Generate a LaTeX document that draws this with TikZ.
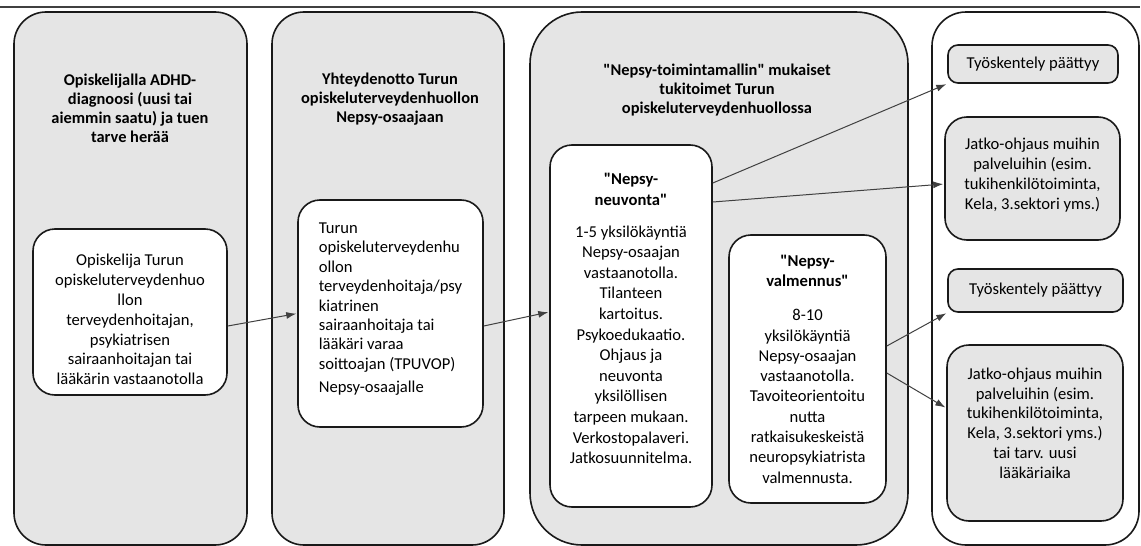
\documentclass[tikz,border=0pt]{standalone}
\usepackage{fontspec}
\setmainfont{Carlito}[Ligatures=TeXOff]
\usetikzlibrary{arrows.meta,calc}

\begin{document}
\begin{tikzpicture}[x=1pt,y=-1pt,shorten >=1pt,->,>={Latex[length=10pt,width=7pt]},draw=black!75,line width=1pt]
    \tikzstyle{column}=[draw=black!90,line width=1.6pt,minimum height=533pt,inner sep=0pt]
    \tikzstyle{box}=[draw=black!90,line width=1.6pt,fill=white,rounded corners=22pt,inner sep=0pt,font=\fontsize{16.6}{19.8}\selectfont]
    \tikzstyle{grey box}=[box,fill=black!10]
    \tikzstyle{title}=[align=center,font=\bfseries\fontsize{16.4}{19.2}\selectfont]

    \useasboundingbox (0,0) rectangle (1141,546);

    % Rule at the top
    \draw[-,black!75,line width=1.2pt] (0,7) -- (1141,7);

    % Draw the four columns
    \foreach \name / \x / \w / \r / \shade in {C1/130.5/233/32/black!10, C2/388/232/32/black!10,
                                              C3/719/378/52/black!10, C4/1035.5/207/34/white}
        \node[column, minimum width=\w pt, rounded corners=\r pt, fill=\shade] (\name) at (\x,278.5) {};

    % Column titles
    \node[title] (T-1) at (130,108.5) {Opiskelijalla ADHD-\\diagnoosi (uusi tai\\aiemmin saatu) ja tuen\\tarve herää};
    \node[title] (T-2) at (390,99) {Yhteydenotto Turun\\opiskeluterveydenhuollon\\Nepsy-osaajaan};
    \node[title] (T-3) at (717,90) {"Nepsy-toimintamallin" mukaiset\\tukitoimet Turun\\opiskeluterveydenhuollossa};

    % Boxes inside the columns
    \node[box, minimum width=194pt, minimum height=166pt] (vastaanotto) at (130,312) {};
    \node[align=center, font=\fontsize{16.6}{19.8}\selectfont] (vastaanotto-text) at (130,319.5)
        {Opiskelija Turun\\opiskeluterveydenhuo\\llon\\terveydenhoitajan,\\psykiatrisen\\sairaanhoitajan tai\\lääkärin vastaanotolla};
    \node[box, align=left, minimum width=185pt, minimum height=227pt, font=\fontsize{16.6}{19.4}\selectfont] (yhteys) at (390.5,313.5)
        {Turun\\opiskeluterveydenhu\\ollon\\terveydenhoitaja/psy\\kiatrinen\\sairaanhoitaja tai\\lääkäri varaa\\soittoajan (TPUVOP)\\[4pt]Nepsy-osaajalle\\[-8pt]};
    \node[box, align=center, minimum width=162pt, minimum height=362pt, font=\fontsize{16.6}{20.6}\selectfont] (neuvonta) at (631,326)
        {\textbf{"Nepsy-}\\\textbf{neuvonta"}\\[11pt]1-5 yksilökäyntiä\\Nepsy-osaajan\\vastaanotolla.\\Tilanteen\\kartoitus.\\Psykoedukaatio.\\Ohjaus ja\\neuvonta\\yksilöllisen\\tarpeen mukaan.\\Verkostopalaveri.\\Jatkosuunnitelma.\\[-6pt]};
    \node[box, align=center, minimum width=157pt, minimum height=268pt, font=\fontsize{16.6}{20.3}\selectfont] (valmennus) at (807.5,369)
        {\textbf{"Nepsy-}\\\textbf{valmennus"}\\[14pt]8-10\\yksilökäyntiä\\Nepsy-osaajan\\vastaanotolla.\\Tavoiteorientoitu\\nutta\\ratkaisukeskeistä\\neuropsykiatrista\\valmennusta.};

    % Outcomes in the last column
    \node[grey box, rounded corners=10pt, minimum width=170pt, minimum height=38pt] (paattyy-1) at (1033,64) {Työskentely päättyy};
    \node[grey box, align=center, minimum width=175pt, minimum height=123pt] (jatko-1) at (1032.5,178.5)
        {Jatko-ohjaus muihin\\palveluihin (esim.\\tukihenkilötoiminta,\\Kela, 3.sektori yms.)\\[-10pt]};
    \node[grey box, rounded corners=10pt, minimum width=175pt, minimum height=43pt] (paattyy-2) at (1035.5,290.5) {Työskentely päättyy};
    \node[grey box, align=center, minimum width=176pt, minimum height=176pt] (jatko-2) at (1035,433)
        {Jatko-ohjaus muihin\\palveluihin (esim.\\tukihenkilötoiminta,\\Kela, 3.sektori yms.)\\tai tarv. uusi\\lääkäriaika\\};

    % Connect the steps
    \draw ($(vastaanotto.east)+(0,14)$) -- (yhteys.west);
    \draw ($(yhteys.east)+(0,12.5)$) -- ($(neuvonta.west)+(0,-14)$);
    \draw ($(neuvonta.east)+(0,-143)$) -- (paattyy-1.south west);
    \draw ($(neuvonta.east)+(0,-124)$) -- ($(jatko-1.west)+(0,5.5)$);
    \draw ($(valmennus.east)+(0,-23)$) -- (paattyy-2.south west);
    \draw ($(valmennus.east)+(0,4)$) -- ($(jatko-2.west)+(0,-25)$);
\end{tikzpicture}
\end{document}
